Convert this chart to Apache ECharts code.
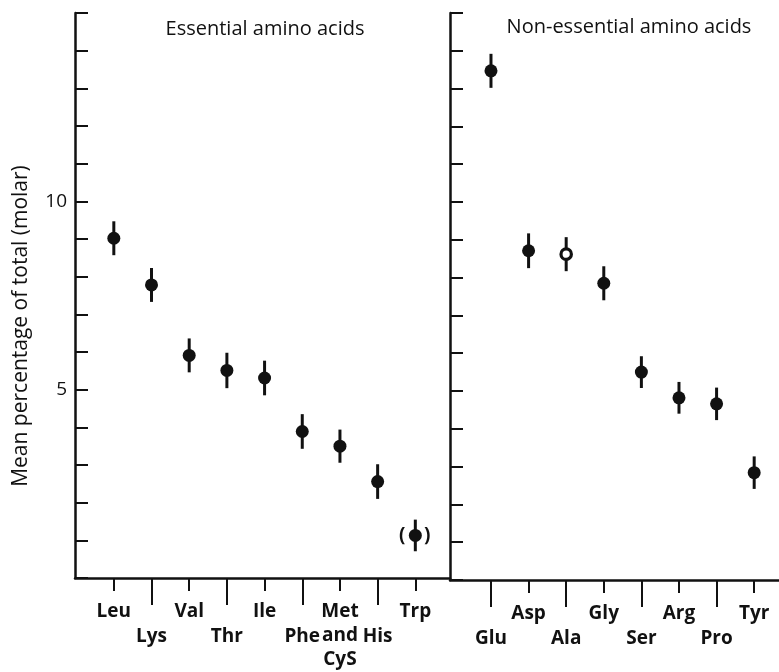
<!DOCTYPE html>
<html>
<head>
<meta charset="utf-8">
<title>Amino acids</title>
<script src="https://cdn.jsdelivr.net/npm/echarts@6/dist/echarts.min.js"></script>
<style>
    html,body{margin:0;padding:0;background:#fff;}
    #main{width:779px;height:672px;}
</style>
</head>
<body>
<div id="main"></div>
<script>
//必需氨基酸
var essNames = ["Leu","Lys","Val","Thr","Ile","Phe","Met\nand\nCyS","His","Trp"];
var essMeans = [9.02,7.78,5.91,5.51,5.31,3.89,3.50,2.56,1.13];
var essErr = [0.45,0.45,0.45,0.47,0.46,0.46,0.44,0.46,0.42];
//非必需氨基酸
var nonNames = ["Glu","Asp","Ala","Gly","Ser","Arg","Pro","Tyr"];
var nonMeans = [13.47,8.71,8.62,7.85,5.50,4.82,4.66,2.84];
var nonErr = [0.45,0.46,0.45,0.45,0.42,0.42,0.43,0.43];
//特殊标记
var hollowNames = ["Ala"];
var bracketNames = ["Trp"];
//y轴
var yLabelValues = [5,10];
var yMax = 15;

var ink = "#111";
var fontName = "Open Sans";

function toData(names,means,errs) {
    var arr = [];
    for(var i=0;i<names.length;i++){
        arr.push([i,means[i],errs[i]]);
    }
    return arr;
}
function indexList(n,odd) {
    var arr = [];
    for(var i=(odd?1:0);i<n;i+=2){ arr.push(i); }
    return arr;
}

//误差棒+点
function makeRender(names) {
    return function (params, api) {
        var name = names[params.dataIndex];
        var x = api.value(0), m = api.value(1), e = api.value(2);
        var c = api.coord([x,m]);
        var top = api.coord([x,m+e]);
        var bot = api.coord([x,m-e]);
        var hollow = hollowNames.indexOf(name) >= 0;
        var children = [
            {type:"line",shape:{x1:c[0],y1:top[1],x2:c[0],y2:bot[1]},style:{stroke:ink,lineWidth:3}},
            {type:"circle",shape:{cx:c[0],cy:c[1],r:hollow?5.2:6.5},
                style:{fill:hollow?"#fff":ink,stroke:ink,lineWidth:hollow?3.2:0}}
        ];
        if(bracketNames.indexOf(name) >= 0){
            children.push({type:"text",x:c[0]-13,y:c[1],style:{text:"(",fill:ink,font:"bold 19px '"+fontName+"'",align:"center",verticalAlign:"middle"}});
            children.push({type:"text",x:c[0]+12,y:c[1],style:{text:")",fill:ink,font:"bold 19px '"+fontName+"'",align:"center",verticalAlign:"middle"}});
        }
        return {type:"group",children:children};
    };
}

function xAxisOf(gridIndex,names,min,max,ticks,tickLen,row,showLine) {
    return {
        type:"value",gridIndex:gridIndex,min:min,max:max,position:"bottom",
        splitLine:{show:false},
        axisLine:{show:showLine,onZero:false,lineStyle:{color:ink,width:2.5}},
        axisTick:{show:true,customValues:ticks,length:tickLen,lineStyle:{color:ink,width:2}},
        axisLabel:{show:true,customValues:ticks,margin:22+row*25,
            formatter:function (v) { return names[Math.round(v)] || ""; },
            color:ink,fontFamily:fontName,fontSize:19,fontWeight:"bold",lineHeight:24,align:"center"}
    };
}

function yAxisOf(gridIndex,showLabel) {
    return {
        type:"value",gridIndex:gridIndex,min:0,max:yMax,interval:1,
        splitLine:{show:false},
        axisLine:{show:true,onZero:false,lineStyle:{color:ink,width:2.5}},
        axisTick:{show:true,inside:true,length:13,lineStyle:{color:ink,width:2}},
        axisLabel:{show:showLabel,customValues:yLabelValues,margin:8,color:ink,fontFamily:fontName,fontSize:19}
    };
}

var myChart = echarts.init(document.getElementById("main"),null,{renderer:"canvas"});

var option = {
    backgroundColor:"#fff",
    animation:false,
    grid:[
        {left:75,top:13,width:375,height:567},
        {left:450,top:13,width:329,height:567}
    ],
    xAxis:[
        xAxisOf(0,essNames,-1.03,8.92,indexList(essNames.length,false),13,0,true),
        xAxisOf(0,essNames,-1.03,8.92,indexList(essNames.length,true),27,1,false),
        xAxisOf(1,nonNames,-1.09,7.66,indexList(nonNames.length,true),13,0,true),
        xAxisOf(1,nonNames,-1.09,7.66,indexList(nonNames.length,false),27,1,false)
    ],
    yAxis:[
        yAxisOf(0,true),
        yAxisOf(1,false)
    ],
    graphic:[
        {type:"text",x:265,y:29,style:{text:"Essential amino acids",fill:ink,font:"20px '"+fontName+"'",align:"center",verticalAlign:"middle"}},
        {type:"text",x:629,y:27,style:{text:"Non-essential amino acids",fill:ink,font:"20px '"+fontName+"'",align:"center",verticalAlign:"middle"}},
        {type:"text",x:21,y:326,rotation:Math.PI/2,style:{text:"Mean percentage of total (molar)",fill:ink,font:"21px '"+fontName+"'",align:"center",verticalAlign:"middle"}}
    ],
    series:[
        {type:"custom",xAxisIndex:0,yAxisIndex:0,renderItem:makeRender(essNames),data:toData(essNames,essMeans,essErr)},
        {type:"custom",xAxisIndex:2,yAxisIndex:1,renderItem:makeRender(nonNames),data:toData(nonNames,nonMeans,nonErr)}
    ]
};

myChart.setOption(option);
</script>
</body>
</html>
